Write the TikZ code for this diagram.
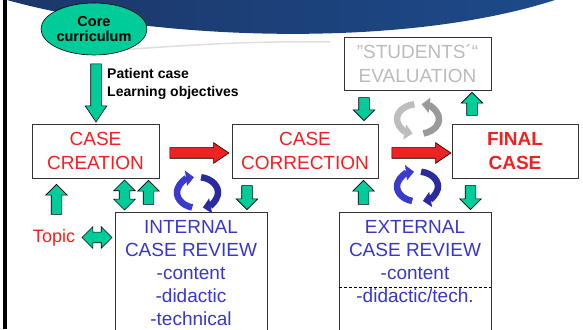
\documentclass[tikz,border=0pt]{standalone}
\usepackage{fontspec}
\setmainfont{Liberation Sans}
\usetikzlibrary{shapes.geometric,shapes.arrows,arrows.meta}
\definecolor{tealgreen}{HTML}{00CC99}
\definecolor{casered}{HTML}{EE2222}
\definecolor{revblue}{HTML}{3737C8}
\definecolor{studgray}{HTML}{BBBBBB}
\definecolor{spinblueA}{HTML}{3A3ACC}
\definecolor{spinblueB}{HTML}{2B2BA0}
\definecolor{spingrayA}{HTML}{BDBDBD}
\definecolor{spingrayB}{HTML}{9A9A9A}
\definecolor{bandA}{HTML}{1B3768}
\definecolor{bandB}{HTML}{4A82BC}
\definecolor{bandC}{HTML}{1D4A8A}

\begin{document}
\begin{tikzpicture}[x=1pt,y=1pt]

\tikzstyle{box}=[rectangle,draw=black!80,line width=0.8pt,align=center,inner sep=0pt,font=\fontsize{19}{23.3}\selectfont]
\tikzstyle{review}=[box,anchor=north,minimum width=152pt,inner ysep=8.4pt,text=revblue,font=\fontsize{19}{22.9}\selectfont]
\tikzstyle{garrow}=[single arrow,draw=black,fill=tealgreen,line width=0.6pt,inner xsep=0pt,inner ysep=5pt,single arrow head extend=5.5pt,minimum height=24pt]
\tikzstyle{gdouble}=[double arrow,draw=black,fill=tealgreen,line width=0.6pt,inner xsep=0pt,inner ysep=5pt,double arrow head extend=5.5pt,minimum height=30pt]
\tikzstyle{rarrow}=[single arrow,draw=black,fill=casered,line width=0.6pt,inner xsep=0pt,inner ysep=5pt,single arrow head extend=5pt,single arrow tip angle=68,minimum height=59pt]
\tikzstyle{spin}=[line width=6.5pt,-{Triangle[width=15pt,length=8pt]}]

\useasboundingbox (0,0) rectangle (583,329);
\clip (0,0) rectangle (583,329);

\shade[left color=bandA,middle color=bandB,right color=bandC] (7,329) .. controls (150,289) and (400,279) .. (555,329) -- cycle;
\draw[gray!25,line width=1.5pt] (120,279) .. controls (200,285) and (260,288) .. (330,287);
\draw[line width=3.5pt] (5,0) -- (5,329);

\node[ellipse,draw=black,line width=0.6pt,fill=tealgreen,minimum width=96pt,minimum height=52pt,inner sep=0pt,align=center,font=\bfseries\fontsize{14.5}{15.5}\selectfont] (core) at (94,300) {Core\\curriculum};
\node[align=left,anchor=west,inner sep=0pt,font=\bfseries\fontsize{14}{18}\selectfont] (pat) at (107,245.5) {Patient case\\Learning objectives};

\node[box,minimum width=127pt,minimum height=54pt,text=casered] (creat) at (95.5,178) {CASE\\CREATION};
\node[box,minimum width=146pt,minimum height=54pt,text=casered] (corr) at (305,178) {CASE\\CORRECTION};
\node[box,minimum width=126pt,minimum height=54pt,text=casered,font=\bfseries\fontsize{19}{23.3}\selectfont] (final) at (515,178) {FINAL\\CASE};
\node[box,minimum width=147pt,minimum height=53pt,text=studgray] (stud) at (417.5,265.5) {”STUDENTS´“\\EVALUATION};

\node[review,text depth=6pt] (intrev) at (191,117) {INTERNAL\\CASE REVIEW\\-content\\-didactic\\-technical};
\node[review,text depth=30pt] (extrev) at (415,117) {EXTERNAL\\CASE REVIEW\\-content\\-didactic/tech.};
\draw[densely dashed,line width=0.6pt] ([yshift=-75pt]extrev.north west) -- ([yshift=-75pt]extrev.north east);

\node[text=casered,inner sep=0pt,font=\fontsize{18}{22}\selectfont] (topic) at (54,91) {Topic};

\node[garrow,rotate=-90,minimum height=58pt,single arrow tip angle=68] (down1) at (96,240) {};
\node[garrow,rotate=90,minimum height=30pt] (up1) at (56.5,127) {};
\node[gdouble,rotate=90] (both1) at (124.5,134) {};
\node[garrow,rotate=90] (up2) at (148.5,134) {};
\node[gdouble] (both2) at (97,91.5) {};
\node[garrow,rotate=-90] (down2) at (247,134) {};
\node[garrow,rotate=90] (up3) at (363.5,134) {};
\node[garrow,rotate=-90] (down3) at (470.5,134) {};
\node[garrow,rotate=-90,minimum height=23pt] (down4) at (364,222.5) {};
\node[garrow,rotate=90,minimum height=23pt] (up4) at (472,222.5) {};

\node[rarrow] (next1) at (195.5,176) {};
\node[rarrow] (next2) at (417.5,176) {};

\coordinate (spin1) at (197.5,136.5);
\coordinate (spin2) at (417.5,142.5);
\coordinate (spin3) at (418,210);

\draw[spin,spinblueA] ([shift={(255:20.5 and 15.5)}]spin1) arc[start angle=255,end angle=100,x radius=20.5,y radius=15.5];
\draw[spin,spinblueB] ([shift={(80:20.5 and 15.5)}]spin1) arc[start angle=80,end angle=-75,x radius=20.5,y radius=15.5];
\draw[spin,spinblueA] ([shift={(255:20.5 and 15)}]spin2) arc[start angle=255,end angle=100,x radius=20.5,y radius=15];
\draw[spin,spinblueB] ([shift={(80:20.5 and 15)}]spin2) arc[start angle=80,end angle=-75,x radius=20.5,y radius=15];
\draw[spin,spingrayA] ([shift={(100:21 and 15)}]spin3) arc[start angle=100,end angle=255,x radius=21,y radius=15];
\draw[spin,spingrayB] ([shift={(285:21 and 15)}]spin3) arc[start angle=285,end angle=440,x radius=21,y radius=15];

\end{tikzpicture}
\end{document}
